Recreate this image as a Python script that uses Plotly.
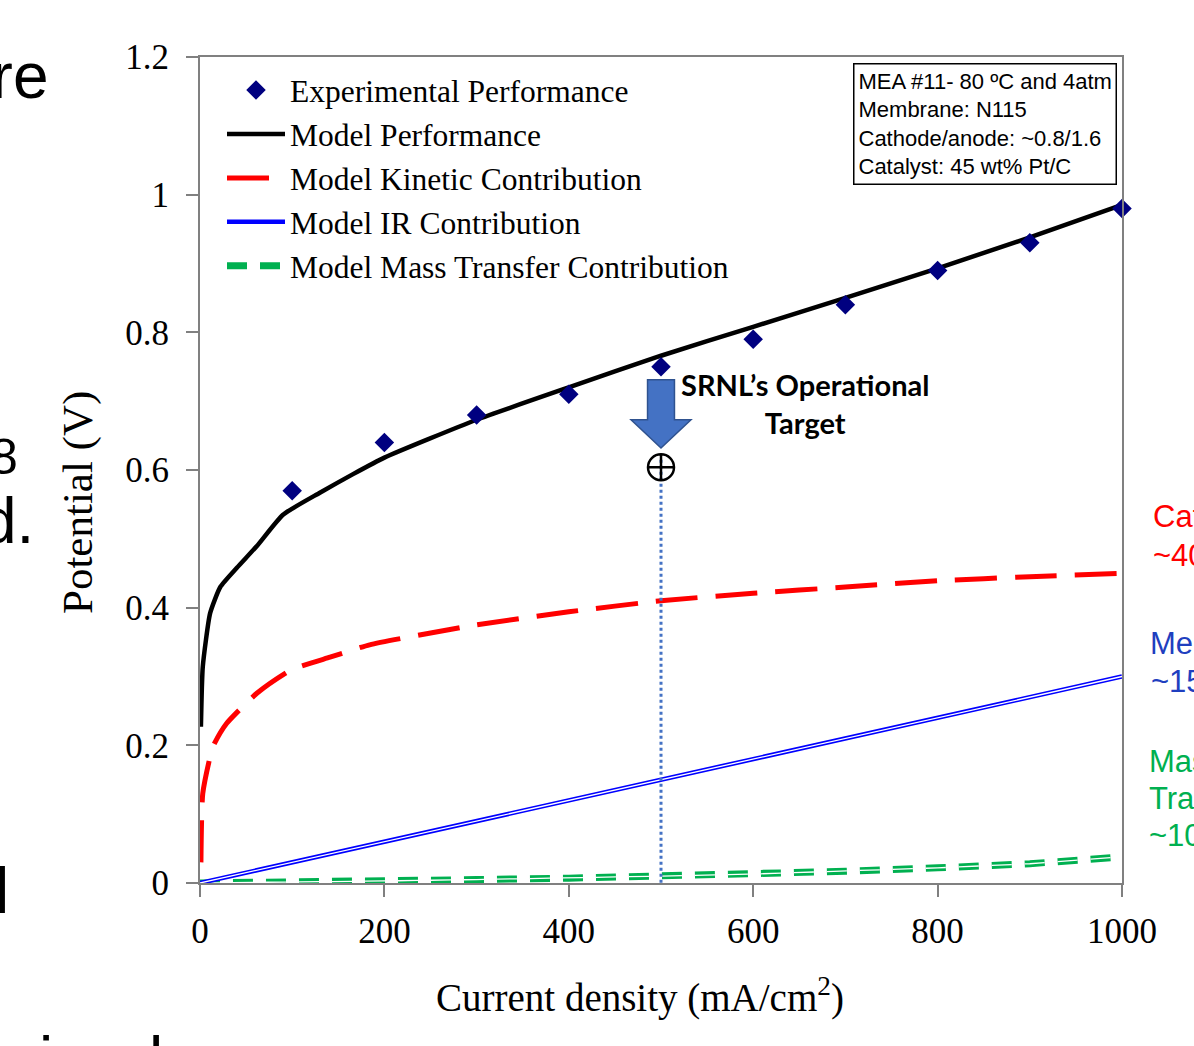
import plotly.graph_objects as go

# ---------------- data ----------------
exp_x = [100, 200, 300, 400, 500, 600, 700, 800, 900, 1000]
exp_v = [0.57, 0.64, 0.68, 0.71, 0.75, 0.79, 0.84, 0.89, 0.93, 0.98]

model_x = [1, 3, 11, 22, 40, 62, 90, 130, 166, 200, 300, 400, 500, 600, 700, 800, 900, 1000]
model_v = [0.227, 0.314, 0.392, 0.43, 0.458, 0.49, 0.535, 0.567, 0.594, 0.618,
           0.673, 0.72, 0.766, 0.808, 0.85, 0.893, 0.938, 0.985]

kin_x = [1, 3, 14, 29, 62, 98, 141, 184, 300, 400, 500, 600, 700, 800, 900, 1000]
kin_v = [0.03, 0.13, 0.198, 0.232, 0.276, 0.309, 0.328, 0.346, 0.375, 0.394,
         0.41, 0.421, 0.43, 0.439, 0.445, 0.45]

ir_x = [0, 1000]
ir_v = [0.0, 0.30]

mt_x = [0, 100, 200, 300, 400, 500, 600, 700, 800, 900, 1000]
mt_v = [0.0, 0.001, 0.003, 0.005, 0.007, 0.01, 0.013, 0.017, 0.022, 0.028, 0.038]

target_x = 500
target_v = 0.6

x_ticks = [0, 200, 400, 600, 800, 1000]
y_ticks = [0, 0.2, 0.4, 0.6, 0.8, 1, 1.2]
y_ticktext = ["0", "0.2", "0.4", "0.6", "0.8", "1", "1.2"]

SERIF = "Liberation Serif, Times New Roman, serif"
SANS = "Liberation Sans, Arial, sans-serif"

fig = go.Figure()

# Mass transfer (double green dashed)
fig.add_trace(go.Scatter(x=mt_x, y=mt_v, mode="lines", name="Model Mass Transfer Contribution",
                         line=dict(color="#00B050", width=7, dash="20px,13px"), legendrank=5))
fig.add_trace(go.Scatter(x=mt_x, y=mt_v, mode="lines", showlegend=False, hoverinfo="skip",
                         line=dict(color="white", width=1.3, dash="20px,13px")))
# IR (double blue line)
fig.add_trace(go.Scatter(x=ir_x, y=ir_v, mode="lines", name="Model IR Contribution",
                         line=dict(color="#0000FF", width=4.5), legendrank=4))
fig.add_trace(go.Scatter(x=ir_x, y=ir_v, mode="lines", showlegend=False, hoverinfo="skip",
                         line=dict(color="white", width=1.3)))
# Kinetic
fig.add_trace(go.Scatter(x=kin_x, y=kin_v, mode="lines", name="Model Kinetic Contribution",
                         line=dict(color="#FF0000", width=5, dash="42px,18px",
                                   shape="spline", smoothing=0.5), legendrank=3))
# Model performance
fig.add_trace(go.Scatter(x=model_x, y=model_v, mode="lines", name="Model Performance",
                         line=dict(color="black", width=4.5, shape="spline", smoothing=0.5),
                         legendrank=2))
# Experimental
fig.add_trace(go.Scatter(x=exp_x, y=exp_v, mode="markers", name="Experimental Performance",
                         cliponaxis=False,
                         marker=dict(symbol="diamond", size=15, color="#000080"), legendrank=1))

# target dotted line and marker
fig.add_trace(go.Scatter(x=[target_x, target_x], y=[target_v + 0.015, 0], mode="lines",
                         showlegend=False, hoverinfo="skip",
                         line=dict(color="#4472C4", width=3, dash="dot")))
fig.add_trace(go.Scatter(x=[target_x], y=[target_v + 0.004], mode="markers", showlegend=False,
                         marker=dict(symbol="circle-cross-open", size=26, color="black",
                                     line=dict(width=2.5, color="black"))))

# arrow shape (data units)
sw, hw = 14.6, 32.5
y_top, y_head, y_tip = 0.731, 0.673, 0.632
path = (f"M {target_x - sw},{y_top} L {target_x + sw},{y_top} L {target_x + sw},{y_head} "
        f"L {target_x + hw},{y_head} L {target_x},{y_tip} L {target_x - hw},{y_head} "
        f"L {target_x - sw},{y_head} Z")
fig.add_shape(type="path", path=path, xref="x", yref="y", fillcolor="#4472C4",
              line=dict(color="#2F528F", width=1.5), layer="above")

L, T, PW, PH = 200, 57, 922, 826
def px(x):
    return (x - L) / PW
def py(y):
    return (T + PH - y) / PH

ann = []
# axis titles as annotations (placed off-centre like the reference)
ann.append(dict(x=px(640), y=py(995), xref="paper", yref="paper", showarrow=False,
                xanchor="center", yanchor="middle",
                text="Current density (mA/cm<sup>2</sup>)",
                font=dict(family=SERIF, size=39, color="black")))
ann.append(dict(x=px(78), y=py(502), xref="paper", yref="paper", showarrow=False,
                xanchor="center", yanchor="middle",
                text="Potential (V)", textangle=-90,
                font=dict(family=SERIF, size=43, color="black")))

ann.append(dict(x=px(805), y=py(403), xref="paper", yref="paper", showarrow=False,
                xanchor="center", yanchor="middle",
                text="<b>SRNL’s Operational<br>Target</b>", align="center",
                font=dict(family="Lato, Open Sans, sans-serif", size=29, color="black")))
ann.append(dict(x=px(853), y=py(63), xref="paper", yref="paper", showarrow=False,
                xanchor="left", yanchor="top", align="left",
                text="MEA #11- 80 ºC and 4atm<br>Membrane: N115<br>Cathode/anode: ~0.8/1.6<br>Catalyst: 45 wt% Pt/C",
                font=dict(family=SANS, size=22, color="black"),
                bordercolor="black", borderwidth=1.5, borderpad=4, bgcolor="white"))

# right-side slide text fragments (cut by the slide edge)
right_lines = [("Cat", 1151, 516, "#FF0000"), ("~40", 1151, 555, "#FF0000"),
               ("Mer", 1148, 643, "#1F3FBF"), ("~15", 1149, 681, "#1F3FBF"),
               ("Mas", 1147, 761, "#00B050"), ("Tran", 1147, 798, "#00B050"),
               ("~10", 1147, 835, "#00B050")]
for txt, xl, yc, col in right_lines:
    ann.append(dict(x=px(xl), y=py(yc), xref="paper", yref="paper", showarrow=False,
                    xanchor="left", yanchor="middle", text=txt,
                    font=dict(family=SANS, size=31, color=col)))

# left-side slide text fragments
for txt, xr, yc, sz in [("are", 51, 76, 64), ("d.", 36, 521, 64), ("8", 20, 457, 50),
                        ("l", 11, 891, 64), ("i", 55, 1060, 64), ("l", 165, 1060, 64)]:
    ann.append(dict(x=px(xr), y=py(yc), xref="paper", yref="paper", showarrow=False,
                    xanchor="right", yanchor="middle", text=txt,
                    font=dict(family=SANS, size=sz, color="black")))

fig.update_layout(
    width=1194, height=1046,
    margin=dict(l=L, r=1194 - L - PW, t=T, b=1046 - T - PH),
    paper_bgcolor="white", plot_bgcolor="white",
    showlegend=True,
    legend=dict(x=px(222), y=py(63), xanchor="left", yanchor="top",
                bgcolor="rgba(0,0,0,0)", itemwidth=58,
                font=dict(family=SERIF, size=31.5, color="black"),
                traceorder="normal"),
    annotations=ann,
    font=dict(family=SERIF, color="black"),
)
fig.update_xaxes(range=[0, 1000], tickvals=x_ticks, ticks="outside", ticklen=12,
                 tickcolor="#808080", tickwidth=1.5, showgrid=False, zeroline=False,
                 showline=True, linecolor="#808080", linewidth=2, mirror=True,
                 ticklabelstandoff=4,
                 tickfont=dict(family=SERIF, size=35, color="black"))
fig.update_yaxes(range=[0, 1.2], tickvals=y_ticks, ticktext=y_ticktext,
                 ticks="outside", ticklen=12, tickcolor="#808080", tickwidth=1.5,
                 showgrid=False, zeroline=False,
                 showline=True, linecolor="#808080", linewidth=2, mirror=True,
                 ticklabelstandoff=10,
                 tickfont=dict(family=SERIF, size=35, color="black"))

fig.write_html("out.html", config={"displayModeBar": False},
               post_script="document.body.style.margin='0px';")
